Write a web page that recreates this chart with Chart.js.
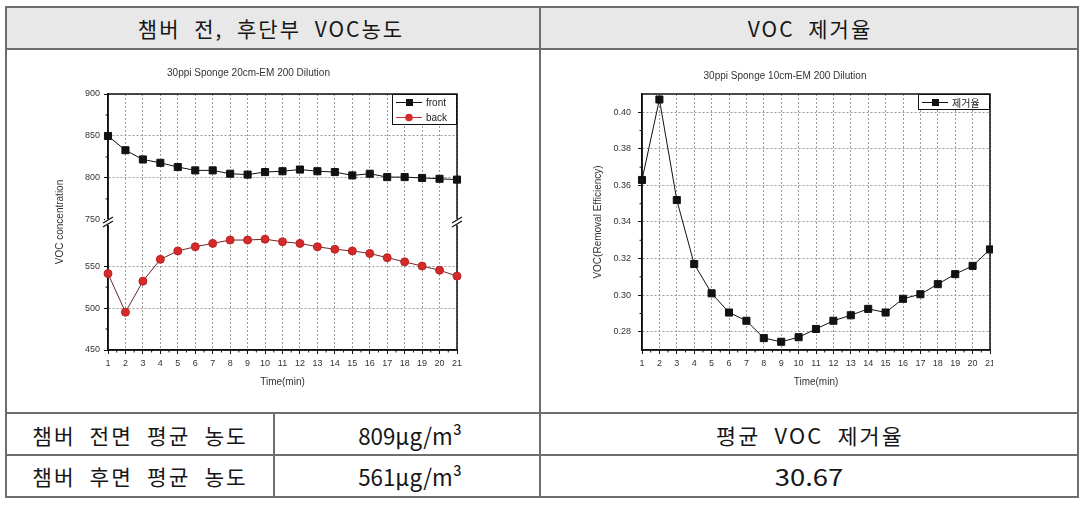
<!DOCTYPE html>
<html>
<head>
<meta charset="utf-8">
<script src="https://cdn.jsdelivr.net/npm/chart.js@4.4.0/dist/chart.umd.min.js"></script>
<style>
  body { margin: 0; background: #fff; width: 1085px; height: 506px; position: relative; overflow: hidden; font-family: "Noto Sans CJK KR", sans-serif; }
  .ln { position: absolute; background: #6e6e6e; }
  .hd { position: absolute; left: 6px; top: 7px; width: 1072px; height: 42px; background: #e8e8e8; }
  .tx { position: absolute; white-space: nowrap; color: #161616; font-size: 21px; line-height: 1; letter-spacing: 2px; word-spacing: 7px; transform: translate(-50%, -50%); }
  .tx.num { letter-spacing: 0; word-spacing: 0; font-size: 23px; }
  .wrap { position: absolute; overflow: hidden; }
</style>
</head>
<body>
<div class="hd"></div>

<div class="ln" style="left:6px;top:6px;width:1073px;height:2px"></div>
<div class="ln" style="left:6px;top:48px;width:1073px;height:2px"></div>
<div class="ln" style="left:6px;top:412px;width:1073px;height:2px"></div>
<div class="ln" style="left:6px;top:454px;width:1073px;height:2px"></div>
<div class="ln" style="left:6px;top:496px;width:1073px;height:2px"></div>
<div class="ln" style="left:5px;top:6px;width:2px;height:492px"></div>
<div class="ln" style="left:1077px;top:6px;width:2px;height:492px"></div>
<div class="ln" style="left:539px;top:6px;width:2px;height:492px"></div>
<div class="ln" style="left:273px;top:412px;width:2px;height:86px"></div>

<div class="tx" data-w="266" style="left:271px;top:28px">챔버 전, 후단부 VOC농도</div>
<div class="tx" data-w="125" style="left:810px;top:28px">VOC 제거율</div>
<div class="tx" data-w="216" style="left:140px;top:435px">챔버 전면 평균 농도</div>
<div class="tx num" data-w="104" style="left:410px;top:435px">809μg/m³</div>
<div class="tx" data-w="188" style="left:810px;top:435px">평균 VOC 제거율</div>
<div class="tx" data-w="216" style="left:140px;top:476px">챔버 후면 평균 농도</div>
<div class="tx num" data-w="104" style="left:410px;top:476px">561μg/m³</div>
<div class="tx num" data-w="68" style="left:809px;top:476px">30.67</div>

<div class="wrap" style="left:40px;top:55px;width:440px;height:340px">
  <canvas id="concChart" width="440" height="340"></canvas>
</div>
<div class="wrap" style="left:580px;top:55px;width:413px;height:340px">
  <canvas id="rateChart" width="430" height="340"></canvas>
</div>

<script>
// x axis: time in minutes
const times = ['1', '2', '3', '4', '5', '6', '7', '8', '9', '10', '11', '12', '13', '14', '15', '16', '17', '18', '19', '20', '21']

// VOC concentration in front of / behind the chamber
const frontConc = [850, 833, 822, 818, 813, 809, 809, 805, 804, 807, 808, 810, 808, 807, 803, 805, 801, 801, 800, 799, 798]
const backConc = [541, 495, 532, 558, 568, 573, 577, 581, 581, 582, 579, 577, 573, 570, 568, 565, 560, 555, 550, 545, 538]

// VOC removal efficiency
const removalRate = [0.363, 0.407, 0.352, 0.317, 0.301, 0.2905, 0.286, 0.2765, 0.2745, 0.277, 0.2815, 0.286, 0.289, 0.2925, 0.2905, 0.298, 0.3005, 0.306, 0.3115, 0.316, 0.325]

const concTicks = [450, 500, 550, 750, 800, 850, 900]
const rateTicks = [0.28, 0.30, 0.32, 0.34, 0.36, 0.38, 0.40]

// the concentration axis is broken between 600 and 750
const BREAK_LOW = 600
const BREAK_SHIFT = 145
const mapConc = v => v > BREAK_LOW + 50 ? v - BREAK_SHIFT : v

Chart.defaults.font.family = '"Liberation Sans", Arial, sans-serif'
Chart.defaults.font.size = 9
Chart.defaults.color = '#333'

const gridOpts = { color: '#9a9a9a', tickColor: '#111', tickBorderDash: [], tickLength: 4, tickWidth: 1 }
// in v4 border.dash is the dash of the grid lines
const borderOpts = { color: '#111', width: 1.5, dash: [2, 2] }

// box round the plot, minor ticks, axis break and the in-plot legend
const framePlugin = {
  id: 'frame',
  beforeDatasetsDraw(chart, args, opts) {
    const { ctx, chartArea: a } = chart
    const xs = chart.scales.x, ys = chart.scales.y
    ctx.save()
    ctx.strokeStyle = '#111'
    ctx.lineWidth = 1.5
    ctx.strokeRect(a.left, a.top, a.right - a.left, a.bottom - a.top)

    // minor ticks
    ctx.lineWidth = 1
    ctx.beginPath()
    for (let i = 0; i < times.length - 1; i++) {
      const x = (xs.getPixelForValue(i) + xs.getPixelForValue(i + 1)) / 2
      ctx.moveTo(x, a.bottom); ctx.lineTo(x, a.bottom + 2.5)
    }
    const tv = ys.ticks.map(t => t.value)
    for (let i = 0; i < tv.length - 1; i++) {
      if (opts.breakAt && tv[i] < opts.breakAt && tv[i + 1] > opts.breakAt) continue
      const y = ys.getPixelForValue((tv[i] + tv[i + 1]) / 2)
      ctx.moveTo(a.left, y); ctx.lineTo(a.left - 2.5, y)
    }
    ctx.stroke()

    // axis break marks
    if (opts.breakAt) {
      const y = ys.getPixelForValue(opts.breakAt)
      for (const x of [a.left, a.right]) {
        ctx.fillStyle = '#fff'
        ctx.fillRect(x - 3, y - 3, 6, 6)
        ctx.beginPath()
        ctx.moveTo(x - 5, y + 1); ctx.lineTo(x + 5, y - 5)
        ctx.moveTo(x - 5, y + 5); ctx.lineTo(x + 5, y - 1)
        ctx.lineWidth = 1.2
        ctx.stroke()
      }
    }
    ctx.restore()
  },
  afterDatasetsDraw(chart, args, opts) {
    const { ctx, chartArea: a } = chart
    const sets = chart.data.datasets
    const w = opts.legendWidth, rowH = 15
    const h = sets.length * rowH + 1
    const left = a.right - w, top = a.top
    ctx.save()
    ctx.fillStyle = '#fff'
    ctx.fillRect(left, top, w, h)
    ctx.strokeStyle = '#111'
    ctx.lineWidth = 1
    ctx.strokeRect(left + 0.5, top + 0.5, w - 1, h - 1)
    sets.forEach((ds, i) => {
      const y = top + 8.5 + i * rowH
      ctx.strokeStyle = ds.legendLine || ds.borderColor
      ctx.beginPath(); ctx.moveTo(left + 4, y); ctx.lineTo(left + 30, y); ctx.stroke()
      ctx.fillStyle = ds.pointBackgroundColor
      if (ds.pointStyle === 'rect') ctx.fillRect(left + 14, y - 3.5, 7, 7)
      else { ctx.beginPath(); ctx.arc(left + 17, y, 3.8, 0, Math.PI * 2); ctx.fill() }
      ctx.fillStyle = '#222'
      ctx.font = '10px ' + opts.legendFont
      ctx.textBaseline = 'middle'
      ctx.fillText(ds.label, left + 34, y + 0.5)
    })
    ctx.restore()
  }
}

new Chart(document.getElementById('concChart'), {
  type: 'line',
  data: {
    labels: times,
    datasets: [{
      label: 'front',
      data: frontConc.map(mapConc),
      borderColor: '#111',
      borderWidth: 1,
      pointStyle: 'rect',
      pointRadius: 5,
      pointBackgroundColor: '#111',
      pointBorderColor: '#111',
      clip: false
    }, {
      label: 'back',
      data: backConc.map(mapConc),
      borderColor: '#6e2626',
      legendLine: '#c33',
      borderWidth: 1,
      pointStyle: 'circle',
      pointRadius: 4,
      pointBackgroundColor: '#d42a2a',
      pointBorderColor: '#b82222',
      clip: false
    }]
  },
  options: {
    responsive: false,
    animation: false,
    layout: { padding: { left: 0, right: 23, top: 0, bottom: 0 } },
    scales: {
      x: {
        type: 'category',
        offset: false,
        grid: gridOpts,
        border: borderOpts,
        ticks: { autoSkip: false, maxRotation: 0, padding: 4 },
        title: { display: true, text: 'Time(min)', font: { size: 10 }, padding: { top: 0, bottom: 7 } },
        afterFit(scale) { scale.height = 45 }
      },
      y: {
        min: 450,
        max: mapConc(900),
        grid: { ...gridOpts, color: c => (c.tick && c.tick.value === mapConc(750)) ? 'rgba(0,0,0,0)' : '#9a9a9a' },
        border: borderOpts,
        afterBuildTicks(axis) { axis.ticks = concTicks.map(v => ({ value: mapConc(v) })) },
        ticks: { padding: 4, callback: (val, i) => concTicks[i] },
        title: { display: true, text: 'VOC concentration', font: { size: 10 }, padding: { top: 14, bottom: 0 } },
        afterFit(scale) { scale.width = 68 }
      }
    },
    plugins: {
      legend: { display: false },
      tooltip: { enabled: false },
      title: {
        display: true,
        text: '30ppi Sponge 20cm-EM 200 Dilution',
        font: { size: 10, weight: 'normal' },
        color: '#333',
        padding: { top: 12, bottom: 15 }
      },
      frame: { breakAt: BREAK_LOW + 2.5, legendWidth: 65, legendFont: '"Liberation Sans", Arial, sans-serif' }
    }
  },
  plugins: [framePlugin]
})

new Chart(document.getElementById('rateChart'), {
  type: 'line',
  data: {
    labels: times,
    datasets: [{
      label: '제거율',
      data: removalRate,
      borderColor: '#111',
      borderWidth: 1,
      pointStyle: 'rect',
      pointRadius: 5,
      pointBackgroundColor: '#111',
      pointBorderColor: '#111',
      clip: false
    }]
  },
  options: {
    responsive: false,
    animation: false,
    layout: { padding: { left: 0, right: 20, top: 0, bottom: 0 } },
    scales: {
      x: {
        type: 'category',
        offset: false,
        grid: gridOpts,
        border: borderOpts,
        ticks: { autoSkip: false, maxRotation: 0, padding: 4 },
        title: { display: true, text: 'Time(min)', font: { size: 10 }, padding: { top: 0, bottom: 7 } },
        afterFit(scale) { scale.height = 45 }
      },
      y: {
        min: 0.27,
        max: 0.41,
        grid: gridOpts,
        border: borderOpts,
        afterBuildTicks(axis) { axis.ticks = rateTicks.map(v => ({ value: v })) },
        ticks: { padding: 7, callback: val => val.toFixed(2) },
        title: { display: true, text: 'VOC(Removal Efficiency)', font: { size: 10 }, padding: { top: 12, bottom: 0 } },
        afterFit(scale) { scale.width = 62 }
      }
    },
    plugins: {
      legend: { display: false },
      tooltip: { enabled: false },
      title: {
        display: true,
        text: '30ppi Sponge 10cm-EM 200 Dilution',
        font: { size: 10, weight: 'normal' },
        color: '#333',
        padding: { top: 15, bottom: 12 }
      },
      frame: { legendWidth: 72, legendFont: '"Noto Sans CJK KR", sans-serif' }
    }
  },
  plugins: [framePlugin]
})

// squeeze the table texts to the widths they have in the original
function fitTexts() {
  document.querySelectorAll('.tx').forEach(el => {
    const target = +el.dataset.w
    const sx = target / el.offsetWidth
    el.style.transform = `translate(-50%, -50%) scale(${sx}, 1)`
  })
}
if (document.fonts && document.fonts.ready) document.fonts.ready.then(fitTexts)
else fitTexts()
</script>
</body>
</html>
